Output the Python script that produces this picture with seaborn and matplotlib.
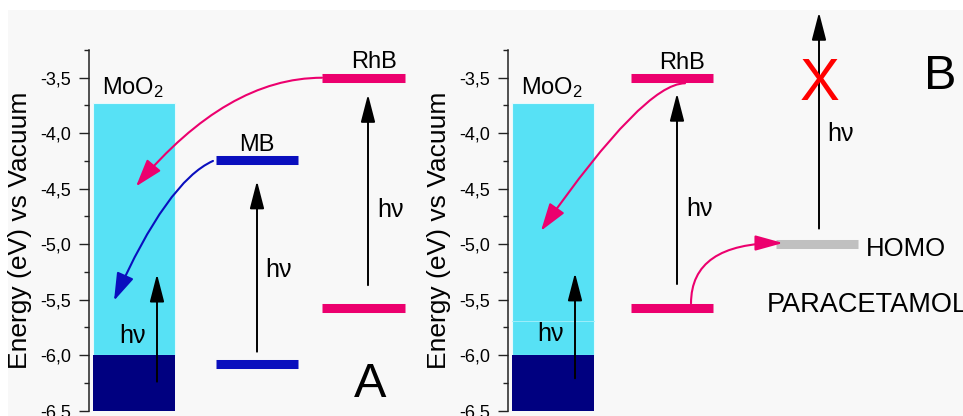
import matplotlib
matplotlib.use("Agg")
import matplotlib.pyplot as plt
from matplotlib.patches import FancyArrowPatch, Rectangle, ArrowStyle
from matplotlib.ticker import AutoMinorLocator
import pandas as pd
import seaborn as sns

# ---- energy levels (eV vs vacuum) ----
moo2_cb = -3.73          # top of the MoO2 band block
moo2_vb = -6.0           # MoO2 valence edge
moo2_floor = -6.5
moo2_inner_b = -5.69     # faint inner edge inside the MoO2 block of panel B
mb_levels = [-4.24, -6.08]        # MB LUMO, HOMO
rhb_levels = [-3.5, -5.58]        # RhB LUMO, HOMO
paracetamol_homo = -5.0

ytick_values = [-6.5, -6.0, -5.5, -5.0, -4.5, -4.0, -3.5]
ytick_labels = ["-6,5", "-6,0", "-5,5", "-5,0", "-4,5", "-4,0", "-3,5"]
y_range = (-6.5, -3.25)

# photo-excitation arrows (start, end) in eV
excite_a = {"MoO2": (-6.24, -5.27), "MB": (-5.97, -4.43), "RhB": (-5.37, -3.65)}
excite_b = {"MoO2": (-6.21, -5.26), "RhB": (-5.36, -3.64), "PARA": (-4.86, -2.91)}

# charge-transfer arrows (start, end) in eV
transfer_a = {"RhB->MoO2": (-3.5, -4.48), "MB->MoO2": (-4.25, -5.51)}
transfer_b = {"RhB->MoO2": (-3.55, -4.88), "RhB->PARA": (-5.535, -4.99)}

# ---- colours ----
CYAN = "#57E1F5"
NAVY = "#000080"
PINK = "#EC006E"
BLUE = "#0A0FBE"
GREY = "#C0C0C0"

sns.set_theme(style="ticks")
plt.rcParams["font.family"] = ["Liberation Sans", "DejaVu Sans"]
plt.rcParams["mathtext.fontset"] = "custom"
plt.rcParams["mathtext.rm"] = "Liberation Sans"
plt.rcParams["mathtext.it"] = "Liberation Sans:italic"
plt.rcParams["mathtext.default"] = "regular"
plt.rcParams["text.color"] = "black"
plt.rcParams["axes.labelcolor"] = "black"
plt.rcParams["ytick.color"] = "black"

W, H = 963, 416
fig = plt.figure(figsize=(W / 100, H / 100), dpi=100, facecolor="white")
fig.patches.append(Rectangle((8 / W, 0), 1, 406 / H, transform=fig.transFigure,
                             facecolor="#F8F8F8", edgecolor="none", zorder=-10))

axA = fig.add_axes([89 / W, 5.5 / H, 391 / W, 360.5 / H])
axB = fig.add_axes([508 / W, 5.5 / H, 455 / W, 360.5 / H])
axA.set_xlim(0, 391)
axB.set_xlim(0, 455)

# horizontal extents of the columns (axis units)
moo2_span = (4, 86)
span_a = {"MB": (127, 209), "RhB": (233, 316)}
span_b = {"RhB": (123, 205), "PARA": (268, 350)}

LABEL = dict(fontsize=17, color="black", zorder=5)
HNU = dict(fontsize=18, color="black", ha="center", va="center", zorder=5)


def style_axis(ax):
    ax.set_facecolor("none")
    ax.set_ylim(*y_range)
    ax.set_yticks(ytick_values)
    ax.set_yticklabels(ytick_labels)
    ax.yaxis.set_minor_locator(AutoMinorLocator(2))
    ax.tick_params(axis="y", which="major", direction="out", length=7, width=1.0,
                   labelsize=13, pad=6, color="#222222", labelcolor="black")
    ax.tick_params(axis="y", which="minor", direction="out", length=3.5, width=1.0,
                   color="#222222")
    ax.set_xticks([])
    sns.despine(ax=ax, top=True, right=True, bottom=True)
    ax.spines["left"].set_linewidth(1.1)
    ax.spines["left"].set_color("#222222")
    ax.set_xlabel("")
    ax.set_ylabel("Energy (eV) vs Vacuum", fontsize=19, color="black")
    ax.yaxis.set_label_coords(-57 / ax.get_xlim()[1], 0.5)


def draw_moo2(ax, inner=None):
    x0, x1 = moo2_span
    ax.bar((x0 + x1) / 2, moo2_cb - moo2_vb, bottom=moo2_vb, width=x1 - x0,
           color=CYAN, edgecolor="#E6FAFD", linewidth=0.8, zorder=1)
    ax.bar((x0 + x1) / 2, moo2_vb - moo2_floor, bottom=moo2_floor, width=x1 - x0,
           color=NAVY, edgecolor="none", zorder=1)
    if inner is not None:
        ax.plot([x0, x1], [inner, inner], color="#9DEEFA", lw=0.7, zorder=1.5)
    ax.text((x0 + x1) / 2 - 1.5, -3.645, "MoO$_2$", ha="center", va="baseline",
            **LABEL)


def draw_levels(ax, spans, energies, colors):
    rows = []
    for name in spans:
        for x in spans[name]:
            rows.append({"level": name, "x": x, "energy": energies[name]})
    df = pd.DataFrame(rows)
    sns.lineplot(data=df, x="x", y="energy", hue="level", units="level",
                 estimator=None, sort=False, palette=colors, linewidth=6.5,
                 legend=False, ax=ax, solid_capstyle="butt", zorder=3)


def straight_arrow(ax, x, y0, y1, clip=True):
    a = FancyArrowPatch((x, y0), (x, y1),
                        arrowstyle=ArrowStyle("-|>", head_length=17, head_width=4.4),
                        mutation_scale=1, lw=1.4, color="black",
                        shrinkA=0, shrinkB=0, zorder=4)
    ax.add_patch(a)
    if not clip:
        a.set_clip_on(False)


def curved_arrow(ax, p0, p1, conn, color, hl=17, hw=5.5):
    a = FancyArrowPatch(p0, p1, connectionstyle=conn,
                        arrowstyle=ArrowStyle("-|>", head_length=hl, head_width=hw),
                        mutation_scale=1, lw=1.5, color=color,
                        shrinkA=0, shrinkB=0, zorder=4)
    ax.add_patch(a)


# ---------------- panel A ----------------
draw_moo2(axA)
draw_levels(axA,
            {"MB LUMO": span_a["MB"], "MB HOMO": span_a["MB"],
             "RhB LUMO": span_a["RhB"], "RhB HOMO": span_a["RhB"]},
            {"MB LUMO": mb_levels[0], "MB HOMO": mb_levels[1],
             "RhB LUMO": rhb_levels[0], "RhB HOMO": rhb_levels[1]},
            {"MB LUMO": BLUE, "MB HOMO": BLUE, "RhB LUMO": PINK, "RhB HOMO": PINK})
straight_arrow(axA, 68, *excite_a["MoO2"])
straight_arrow(axA, 168, *excite_a["MB"])
straight_arrow(axA, 279, *excite_a["RhB"])
curved_arrow(axA, (233, transfer_a["RhB->MoO2"][0]), (47, transfer_a["RhB->MoO2"][1]),
             "angle3,angleA=180,angleB=50", PINK)
curved_arrow(axA, (124, transfer_a["MB->MoO2"][0]), (25, transfer_a["MB->MoO2"][1]),
             "angle3,angleA=24,angleB=66", BLUE)
axA.text(44, -5.83, "hν", **HNU)
axA.text(190, -5.23, "hν", **HNU)
axA.text(302, -4.69, "hν", **HNU)
axA.text(167.5, -4.16, "MB", ha="center", va="baseline", **LABEL)
axA.text(285, -3.41, "RhB", ha="center", va="baseline", **LABEL)
axA.text(281.5, -6.38, "A", fontsize=35, color="black", ha="center",
         va="baseline", zorder=5)
style_axis(axA)

# ---------------- panel B ----------------
draw_moo2(axB, inner=moo2_inner_b)
draw_levels(axB,
            {"RhB LUMO": span_b["RhB"], "RhB HOMO": span_b["RhB"],
             "HOMO": span_b["PARA"]},
            {"RhB LUMO": rhb_levels[0], "RhB HOMO": rhb_levels[1],
             "HOMO": paracetamol_homo},
            {"RhB LUMO": PINK, "RhB HOMO": PINK, "HOMO": GREY})
straight_arrow(axB, 67, *excite_b["MoO2"])
straight_arrow(axB, 169, *excite_b["RhB"])
straight_arrow(axB, 311, *excite_b["PARA"], clip=False)
curved_arrow(axB, (177, transfer_b["RhB->MoO2"][0]), (33, transfer_b["RhB->MoO2"][1]),
             "angle3,angleA=180,angleB=55", PINK)
curved_arrow(axB, (183, transfer_b["RhB->PARA"][0]), (275, transfer_b["RhB->PARA"][1]),
             "angle3,angleA=90,angleB=0", PINK, hl=17, hw=4.7)
axB.text(311.5, -3.70, "X", fontsize=43, color="#FF0000", ha="center",
         va="baseline", zorder=5)
axB.text(43, -5.81, "hν", **HNU)
axB.text(192, -4.68, "hν", **HNU)
axB.text(333, -4.01, "hν", **HNU)
axB.text(174, -3.42, "RhB", ha="center", va="baseline", **LABEL)
axB.text(358, -5.11, "HOMO", fontsize=18.5, color="black", ha="left",
         va="baseline", zorder=5)
axB.text(259, -5.61, "PARACETAMOL", fontsize=19.5, color="black", ha="left",
         va="baseline", zorder=5, clip_on=False)
axB.text(432, -3.60, "B", fontsize=35, color="black", ha="center",
         va="baseline", zorder=5)
style_axis(axB)

fig.savefig("out.png", dpi=100, facecolor="white")
